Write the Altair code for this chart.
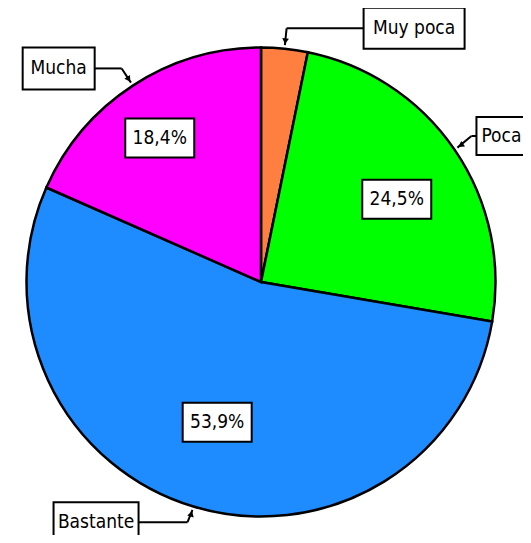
import altair as alt
import pandas as pd

# ---- data ----
categories = ["Muy poca", "Poca", "Bastante", "Mucha"]
values = [3.2, 24.5, 53.9, 18.4]
colors = ["#FF7F40", "#00FF00", "#1E8CFF", "#FF00FF"]

# ---- label layout (style only) ----
show_pct = [0, 1, 1, 1]
pct_radius = [0, 159, 147, 176]
pct_shift = [0, 3, 0.6, -2]       # degrees
box_side = [1, 1, -1, -1]         # 1 = box to the right of elbow
box_gap = [77, 5, 49, 27]
box_w = [101, 50, 85, 72]
box_h = [41, 38, 40, 42]
box_dy = [0, -2, -4, 0]

W, H = 515, 527
CX, CY, R = 253, 274, 234.5
TIP_R, ELBOW_R, ARROW_R = 238, 255, 242
PCT_W, PCT_H = 69, 39
FONT = "DejaVu Sans Condensed, DejaVu Sans"
FS = 19

df = pd.DataFrame({
    "category": categories,
    "value": values,
    "order": list(range(len(categories))),
    "show_pct": show_pct,
    "pr": pct_radius,
    "shift": pct_shift,
    "side": box_side,
    "gap": box_gap,
    "bw": box_w,
    "bh": box_h,
    "bdy": box_dy,
})

xs = alt.Scale(domain=[0, W], nice=False, zero=False)
ys = alt.Scale(domain=[0, H], nice=False, zero=False, reverse=True)

pie = alt.Chart(df).mark_arc(radius=R, stroke="black", strokeWidth=2.5).encode(
    theta=alt.Theta("value:Q", stack=True),
    color=alt.Color("category:N", scale=alt.Scale(domain=categories, range=colors), legend=None),
    order=alt.Order("order:Q"),
    x=alt.value(CX),
    y=alt.value(CY),
)

base = (
    alt.Chart(df)
    .transform_joinaggregate(total="sum(value)")
    .transform_window(cum="sum(value)", sort=[alt.SortField("order")], frame=[None, 0])
    .transform_calculate(mid="2*PI*(datum.cum - datum.value/2)/datum.total")
    .transform_calculate(
        tx=f"{CX} + {TIP_R}*sin(datum.mid)",
        ty=f"{CY} - {TIP_R}*cos(datum.mid)",
        ax=f"{CX} + {ARROW_R}*sin(datum.mid)",
        ay=f"{CY} - {ARROW_R}*cos(datum.mid)",
        ex=f"{CX} + {ELBOW_R}*sin(datum.mid)",
        ey=f"{CY} - {ELBOW_R}*cos(datum.mid) + datum.bdy",
        pm="datum.mid + datum.shift*PI/180",
        arr="(datum.mid*180/PI + 180) % 360",
        pct="replace(format(datum.value/datum.total*100, '.1f'), '.', ',') + '%'",
    )
    .transform_calculate(
        bx="datum.ex + datum.side*datum.gap",
        bx2="datum.ex + datum.side*(datum.gap + datum.bw)",
        bcx="datum.ex + datum.side*(datum.gap + datum.bw/2)",
        by1="datum.ey - datum.bh/2",
        by2="datum.ey + datum.bh/2",
        px=f"{CX} + datum.pr*sin(datum.pm)",
        py=f"{CY} - datum.pr*cos(datum.pm)",
    )
    .transform_calculate(
        px1=f"datum.px - {PCT_W/2}",
        px2=f"datum.px + {PCT_W/2}",
        py1=f"datum.py - {PCT_H/2}",
        py2=f"datum.py + {PCT_H/2}",
    )
)

lead1 = base.mark_rule(color="black", strokeWidth=2).encode(
    x=alt.X("tx:Q", scale=xs, axis=None), y=alt.Y("ty:Q", scale=ys, axis=None),
    x2="ex:Q", y2="ey:Q",
)
lead2 = base.mark_rule(color="black", strokeWidth=2).encode(
    x=alt.X("ex:Q", scale=xs, axis=None), y=alt.Y("ey:Q", scale=ys, axis=None),
    x2="bx:Q",
)
arrows = base.mark_point(shape="triangle-up", filled=True, color="black", opacity=1, size=45).encode(
    x=alt.X("ax:Q", scale=xs, axis=None), y=alt.Y("ay:Q", scale=ys, axis=None),
    angle=alt.Angle("arr:Q", scale=None),
)
boxes = base.mark_rect(fill="white", stroke="black", strokeWidth=2).encode(
    x=alt.X("bx:Q", scale=xs, axis=None), x2="bx2:Q",
    y=alt.Y("by1:Q", scale=ys, axis=None), y2="by2:Q",
)
texts = base.mark_text(font=FONT, fontSize=FS, color="black", baseline="middle", align="center").encode(
    x=alt.X("bcx:Q", scale=xs, axis=None), y=alt.Y("ey:Q", scale=ys, axis=None),
    text="category:N",
)
pbase = base.transform_filter("datum.show_pct == 1")
pboxes = pbase.mark_rect(fill="white", stroke="black", strokeWidth=2).encode(
    x=alt.X("px1:Q", scale=xs, axis=None), x2="px2:Q",
    y=alt.Y("py1:Q", scale=ys, axis=None), y2="py2:Q",
)
ptexts = pbase.mark_text(font=FONT, fontSize=FS, color="black", baseline="middle", align="center").encode(
    x=alt.X("px:Q", scale=xs, axis=None), y=alt.Y("py:Q", scale=ys, axis=None),
    text="pct:N",
)

chart = alt.layer(pie, lead1, lead2, arrows, boxes, texts, pboxes, ptexts).properties(
    width=W, height=H, autosize="none", padding=0
).configure_view(stroke=None)

chart.save("out.html", embed_options={"renderer": "svg", "actions": False})
